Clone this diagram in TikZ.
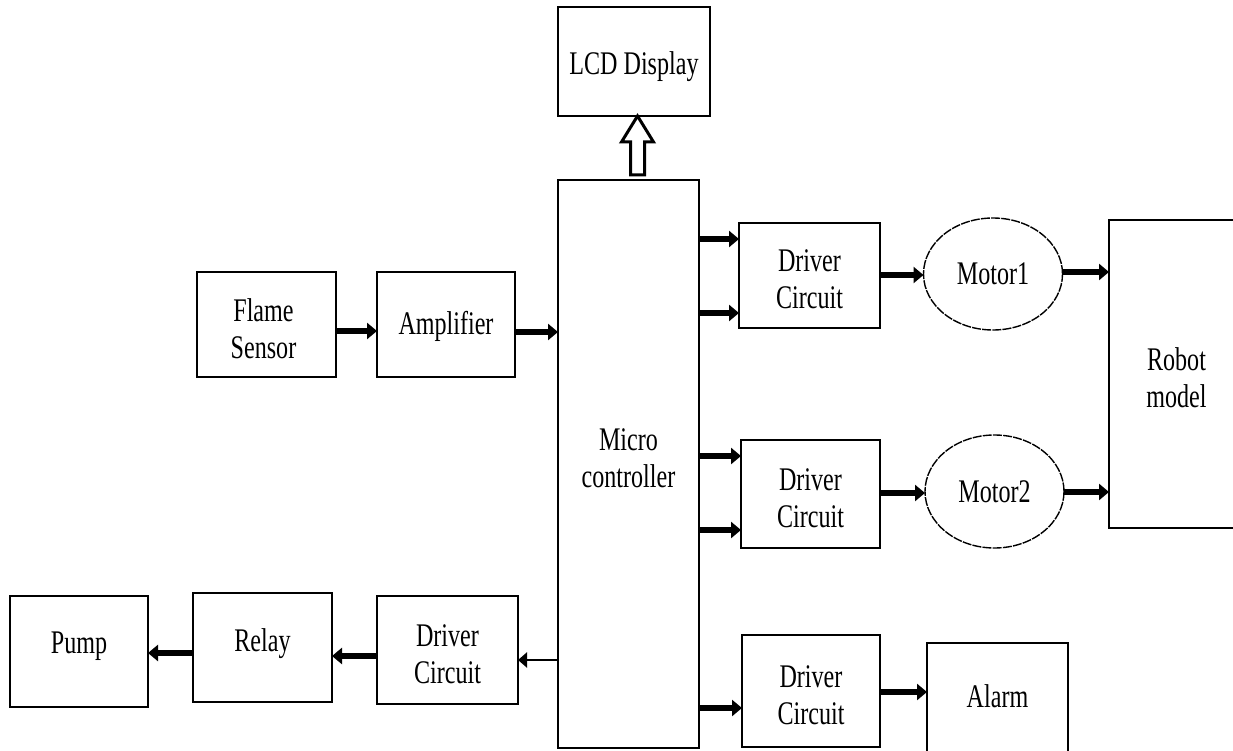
\documentclass[tikz,border=0pt]{standalone}
\usepackage{fontspec}
\setmainfont{Liberation Serif}[FakeStretch=0.73]
\usetikzlibrary{arrows.meta,shapes.geometric,calc}
\newcommand\lbfont{\fontsize{33}{37}\selectfont}
\tikzset{
  box/.style={draw, line width=2.4pt, inner sep=0pt, outer sep=0pt},
  motor/.style={ellipse, draw, line width=1.4pt, dash pattern=on 9pt off 1.2pt,
                inner sep=0pt, outer sep=0pt},
  lbl/.style={align=center, font=\lbfont, inner sep=0pt},
  arr/.style={line width=5.5pt, -{Triangle[length=10pt,width=16pt]}},
  thinarr/.style={line width=2.2pt, -{Triangle[length=9pt,width=15pt]}},
  hollow/.style={draw, line width=3pt, line join=miter, fill=white},
}
\begin{document}
\begin{tikzpicture}[x=1pt,y=-1pt]
\useasboundingbox (0,0) rectangle (1233,751);
\clip (0,0) rectangle (1233,751);

% blocks
\node[box, minimum width=152pt, minimum height=109pt] (lcd)   at (634,61.5)   {};
\node[box, minimum width=141pt, minimum height=568pt] (micro) at (628.5,464)  {};
\node[box, minimum width=139pt, minimum height=105pt] (flame) at (266.5,324.5) {};
\node[box, minimum width=138pt, minimum height=105pt] (amp)   at (446,324.5)  {};
\node[box, minimum width=141pt, minimum height=105pt] (drv1)  at (809.5,275.5) {};
\node[box, minimum width=139pt, minimum height=108pt] (drv2)  at (810.5,494)  {};
\node[box, minimum width=138pt, minimum height=112pt] (drv3)  at (811,691)    {};
\node[box, minimum width=141pt, minimum height=108pt] (drv0)  at (447.5,650)  {};
\node[box, minimum width=139pt, minimum height=109pt] (relay) at (262.5,647.5) {};
\node[box, minimum width=138pt, minimum height=111pt] (pump)  at (79,651.5)   {};
\node[box, minimum width=135pt, minimum height=308pt] (robot) at (1176.5,374)  {};
\node[box, minimum width=141pt, minimum height=112pt] (alarm) at (997.5,699)  {};
\node[motor, minimum width=139pt, minimum height=112pt] (m1) at (993,274)   {};
\node[motor, minimum width=139pt, minimum height=113pt] (m2) at (994.5,491.5) {};

% labels
\node[lbl] (lcdt)   at ([yshift=-5pt]lcd.center)   {LCD Display};
\node[lbl] (microt) at ([yshift=6pt]micro.center)  {Micro\\controller};
\node[lbl] (flamet) at ([xshift=-3pt,yshift=-4pt]flame.center) {Flame\\Sensor};
\node[lbl] (ampt)   at ([yshift=-2pt]amp.center)   {Amplifier};
\node[lbl] (drv1t)  at ([yshift=-4pt]drv1.center)  {Driver\\Circuit};
\node[lbl] (drv2t)  at ([yshift=-4pt]drv2.center)  {Driver\\Circuit};
\node[lbl] (drv3t)  at ([yshift=-4pt]drv3.center)  {Driver\\Circuit};
\node[lbl] (drv0t)  at ([yshift=-4pt]drv0.center)  {Driver\\Circuit};
\node[lbl] (relayt) at ([yshift=4pt]relay.center)  {Relay};
\node[lbl] (pumpt)  at ([yshift=5pt]pump.center)   {Pump};
\node[lbl] (robott) at ([yshift=-4pt]robot.center) {Robot\\model};
\node[lbl] (alarmt) at ([yshift=3pt]alarm.center)  {Alarm};
\node[lbl] (m1t)    at (m1.center)                 {Motor1};
\node[lbl] (m2t)    at (m2.center)                 {Motor2};

% signal levels
\coordinate (y239) at (0,239);
\coordinate (y272) at (0,272);
\coordinate (y275) at (0,275);
\coordinate (y313) at (0,313);
\coordinate (y331) at (0,331);
\coordinate (y332) at (0,332);
\coordinate (y456) at (0,456);
\coordinate (y492) at (0,492);
\coordinate (y493) at (0,493);
\coordinate (y530) at (0,530);
\coordinate (y653) at (0,653);
\coordinate (y656) at (0,656);
\coordinate (y660) at (0,660);
\coordinate (y692) at (0,692);
\coordinate (y708) at (0,708);

% connectors
\draw[arr] (flame.east |- y331) -- (amp.west |- y331);
\draw[arr] (amp.east |- y332) -- (micro.west |- y332);
\draw[arr] (micro.east |- y239) -- (drv1.west |- y239);
\draw[arr] (micro.east |- y313) -- (drv1.west |- y313);
\draw[arr] (drv1.east |- y275) -- (m1.west |- y275);
\draw[arr] (m1.east |- y272) -- (robot.west |- y272);
\draw[arr] (micro.east |- y456) -- (drv2.west |- y456);
\draw[arr] (micro.east |- y530) -- (drv2.west |- y530);
\draw[arr] (drv2.east |- y493) -- (m2.west |- y493);
\draw[arr] (m2.east |- y492) -- (robot.west |- y492);
\draw[arr] (micro.east |- y708) -- (drv3.west |- y708);
\draw[arr] (drv3.east |- y692) -- (alarm.west |- y692);
\draw[thinarr] (micro.west |- y660) -- (drv0.east |- y660);
\draw[arr] (drv0.west |- y656) -- (relay.east |- y656);
\draw[arr] (relay.west |- y653) -- (pump.east |- y653);

% hollow block arrow to the display
\coordinate (hb) at ([xshift=9pt,yshift=5pt]micro.north);
\coordinate (ht) at (hb |- lcd.south);
\path[hollow] ([xshift=-7pt]hb) -- ++(0,-33) -- ++(-9,0) -- (ht)
      -- ++(16,26) -- ++(-9,0) -- ++(0,33) -- cycle;
\end{tikzpicture}
\end{document}
